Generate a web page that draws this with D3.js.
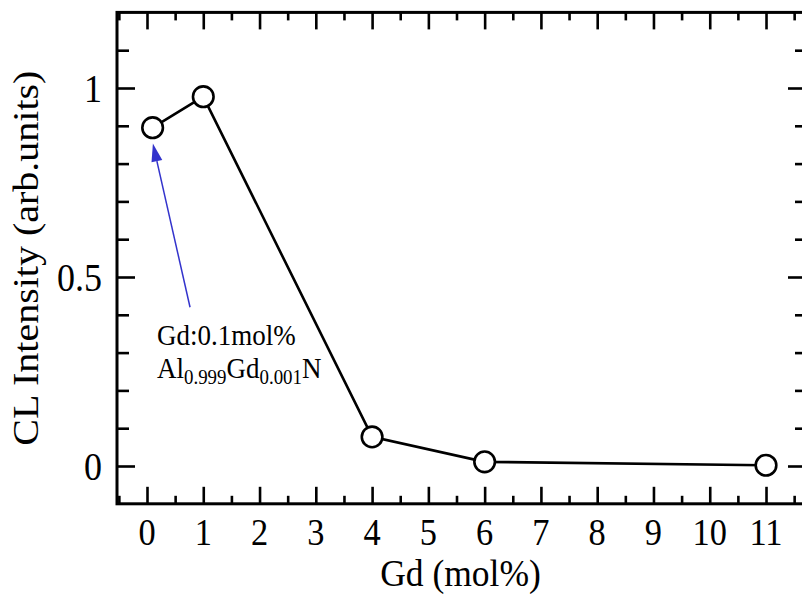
<!DOCTYPE html>
<html>
<head>
<meta charset="utf-8">
<script src="https://cdn.jsdelivr.net/npm/d3@7"></script>
<style>
  body { margin: 0; background: #fff; }
  svg { display: block; }
  text { font-family: "Liberation Serif", "Times New Roman", serif; fill: #000; }
</style>
</head>
<body>
<svg id="chart" width="802" height="594"></svg>
<script>
// ---- data ----
const gdMol = [0.1, 1, 4, 6, 11];
const clIntensity = [0.895, 0.977, 0.077, 0.011, 0.002];
const xTickValues = [0, 1, 2, 3, 4, 5, 6, 7, 8, 9, 10, 11];
const xTickLabels = ["0", "1", "2", "3", "4", "5", "6", "7", "8", "9", "10", "11"];
const yTickValues = [0, 0.5, 1];
const yTickLabels = ["0", "0.5", "1"];
const xMinorValues = [-0.5, 0.5, 1.5, 2.5, 3.5, 4.5, 5.5, 6.5, 7.5, 8.5, 9.5, 10.5, 11.5];
const yMinorValues = [0.1, 0.2, 0.3, 0.4, 0.6, 0.7, 0.8, 0.9, 1.1];
const xTitle = "Gd (mol%)";
const yTitle = "CL Intensity (arb.units)";
const annoLine1 = "Gd:0.1mol%";
const annoArrowFrom = [0.765, 0.42];
const annoArrowTo = [0.105, 0.853];

// ---- layout ----
const svg = d3.select("#chart");
const L = 117, R = 804, T = 12.4, B = 503.8;
const x = d3.scaleLinear().domain([-0.533, 11.675]).range([L, R]);
const y = d3.scaleLinear().domain([-0.1, 1.2]).range([B, T]);
const SX = 0.9; // horizontal squeeze of glyphs in the reference

const tickStyle = g => {
  g.select(".domain").remove();
  g.selectAll(".tick line").attr("stroke", "#000").attr("stroke-width", 2.6);
  g.selectAll(".tick text").remove();
};

// bottom & top ticks (inward)
svg.append("g").attr("transform", `translate(0,${B})`)
  .call(d3.axisBottom(x).tickValues(xTickValues).tickSize(-17).tickFormat(""))
  .call(tickStyle);
svg.append("g").attr("transform", `translate(0,${B})`)
  .call(d3.axisBottom(x).tickValues(xMinorValues).tickSize(-8).tickFormat(""))
  .call(tickStyle);
svg.append("g").attr("transform", `translate(0,${T})`)
  .call(d3.axisTop(x).tickValues(xTickValues).tickSize(-17).tickFormat(""))
  .call(tickStyle);
svg.append("g").attr("transform", `translate(0,${T})`)
  .call(d3.axisTop(x).tickValues(xMinorValues).tickSize(-8).tickFormat(""))
  .call(tickStyle);
// left & right ticks
svg.append("g").attr("transform", `translate(${L},0)`)
  .call(d3.axisLeft(y).tickValues(yTickValues).tickSize(-18).tickFormat(""))
  .call(tickStyle);
svg.append("g").attr("transform", `translate(${L},0)`)
  .call(d3.axisLeft(y).tickValues(yMinorValues).tickSize(-12).tickFormat(""))
  .call(tickStyle);
svg.append("g").attr("transform", `translate(${R},0)`)
  .call(d3.axisRight(y).tickValues(yTickValues).tickSize(-16).tickFormat(""))
  .call(tickStyle);
svg.append("g").attr("transform", `translate(${R},0)`)
  .call(d3.axisRight(y).tickValues(yMinorValues).tickSize(-9).tickFormat(""))
  .call(tickStyle);

// frame
svg.append("rect")
  .attr("x", L).attr("y", T).attr("width", R - L).attr("height", B - T)
  .attr("fill", "none").attr("stroke", "#000").attr("stroke-width", 3);

// tick labels
svg.append("g").selectAll("text").data(xTickValues).join("text")
  .attr("transform", d => `translate(${x(d)},544.5) scale(0.93,1)`)
  .attr("text-anchor", "middle")
  .style("font-size", "37px")
  .text((d, i) => xTickLabels[i]);
svg.append("g").selectAll("text").data(yTickValues).join("text")
  .attr("transform", d => `translate(102,${y(d) + 14}) scale(${SX},1)`)
  .attr("text-anchor", "end")
  .style("font-size", "40px")
  .text((d, i) => yTickLabels[i]);

// axis titles
svg.append("text")
  .attr("transform", `translate(${(L + R) / 2},585.5) scale(0.96,1)`)
  .attr("text-anchor", "middle")
  .style("font-size", "37px")
  .text(xTitle);
svg.append("text")
  .attr("transform", `translate(38,${(T + B) / 2}) scale(${SX},1) rotate(-90)`)
  .attr("text-anchor", "middle")
  .style("font-size", "40px")
  .text(yTitle);

// data line & markers
const pts = gdMol.map((g, i) => [g, clIntensity[i]]);
svg.append("path")
  .attr("d", d3.line().x(d => x(d[0])).y(d => y(d[1]))(pts))
  .attr("fill", "none").attr("stroke", "#000").attr("stroke-width", 2.6);
svg.append("g").selectAll("circle").data(pts).join("circle")
  .attr("cx", d => x(d[0])).attr("cy", d => y(d[1])).attr("r", 10.3)
  .attr("fill", "#fff").attr("stroke", "#000").attr("stroke-width", 2.6);

// annotation arrow
const ax0 = x(annoArrowFrom[0]), ay0 = y(annoArrowFrom[1]);
const ax1 = x(annoArrowTo[0]), ay1 = y(annoArrowTo[1]);
const ang = Math.atan2(ay1 - ay0, ax1 - ax0);
const headLen = 18, headW = 5.5;
const bx = ax1 - headLen * Math.cos(ang), by = ay1 - headLen * Math.sin(ang);
svg.append("line")
  .attr("x1", ax0).attr("y1", ay0).attr("x2", bx).attr("y2", by)
  .attr("stroke", "#3333cc").attr("stroke-width", 1.5);
svg.append("path")
  .attr("d", `M${ax1},${ay1} L${bx + headW * Math.sin(ang)},${by - headW * Math.cos(ang)} L${bx - headW * Math.sin(ang)},${by + headW * Math.cos(ang)} Z`)
  .attr("fill", "#3333cc");

// annotation text
svg.append("text")
  .attr("transform", `translate(157,345) scale(${SX},1)`)
  .style("font-size", "30px")
  .text(annoLine1);
const t2 = svg.append("text")
  .attr("transform", `translate(157,378) scale(${SX},1)`)
  .style("font-size", "30px");
t2.append("tspan").text("Al");
t2.append("tspan").attr("dy", 6).style("font-size", "21px").text("0.999");
t2.append("tspan").attr("dy", -6).text("Gd");
t2.append("tspan").attr("dy", 6).style("font-size", "21px").text("0.001");
t2.append("tspan").attr("dy", -6).text("N");
</script>
</body>
</html>
